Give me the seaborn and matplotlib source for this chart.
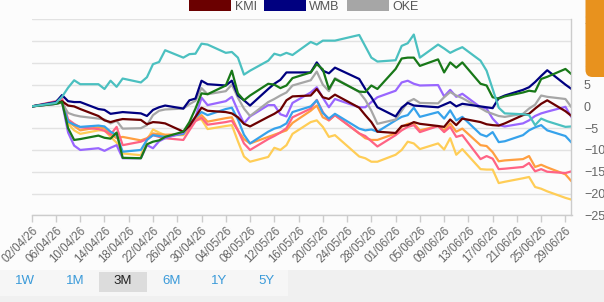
import matplotlib
matplotlib.use("Agg")
import matplotlib.pyplot as plt
import matplotlib.dates as mdates
import matplotlib.transforms as mtransforms
from matplotlib.patches import Patch, Rectangle, FancyBboxPatch
import pandas as pd
import seaborn as sns

# trading days shown on the 3M view
dates = [
    "2026-04-02", "2026-04-06", "2026-04-07", "2026-04-08", "2026-04-09", "2026-04-10",
    "2026-04-13", "2026-04-14", "2026-04-15", "2026-04-16", "2026-04-17",
    "2026-04-20", "2026-04-21", "2026-04-22", "2026-04-23", "2026-04-24",
    "2026-04-27", "2026-04-28", "2026-04-29", "2026-04-30", "2026-05-01",
    "2026-05-04", "2026-05-05", "2026-05-06", "2026-05-07", "2026-05-08",
    "2026-05-11", "2026-05-12", "2026-05-13", "2026-05-14", "2026-05-15",
    "2026-05-18", "2026-05-19", "2026-05-20", "2026-05-21", "2026-05-22",
    "2026-05-26", "2026-05-27", "2026-05-28", "2026-05-29",
    "2026-06-01", "2026-06-02", "2026-06-03", "2026-06-04", "2026-06-05",
    "2026-06-08", "2026-06-09", "2026-06-10", "2026-06-11", "2026-06-12",
    "2026-06-15", "2026-06-16", "2026-06-17", "2026-06-18", "2026-06-19",
    "2026-06-22", "2026-06-23", "2026-06-24", "2026-06-25", "2026-06-26",
    "2026-06-29", "2026-06-30",
]

# % change since start, one list per line
kmi = [0, 0.8, 1.2, 0.2, 0.0, -0.6, -2.2, -3.2, -3.6, -3.2, -2.9, -3.1, -4.1, -3.6, -3.7, -3.9,
       -5.8, -4.5, -2.4, -0.3, -1.0, -1.3, -1.6, -2.5, -4.0, -4.6, -2.4, -1.7, -0.8, 1.4, 2.3,
       2.5, 4.0, 2.1, 1.7, 2.7, -0.3, -2.0, -3.6, -5.8, -6.1, -4.5, -4.3, -3.6, -4.0,
       -4.5, -4.7, -3.0, -4.3, -2.8, -3.6, -4.1, -4.3, -4.4, -3.9, -2.0, -1.7, -0.5, 0.6, 1.4,
       -1.1, -2.2]
wmb = [0, 1.0, 2.6, 1.2, 1.0, 1.0, -0.6, -0.8, -1.7, -1.5, -1.3, -1.6, -2.2, -0.8, -0.2, 0.2,
       -0.5, 1.4, 1.8, 5.9, 5.1, 4.8, 5.9, 2.5, 1.4, 0.2, 4.0, 5.2, 6.1, 7.8, 7.8,
       7.8, 10.1, 8.2, 7.6, 8.9, 6.3, 4.0, 2.1, -0.2, -2.3, -0.3, 0.8, 0.2, 0.1,
       -0.2, 0.4, 1.0, 0.0, 0.6, 0.0, -0.2, -0.4, 1.9, 2.5, 3.8, 4.4, 5.6, 7.0, 8.3,
       5.0, 4.0]
oke = [0, 0.7, 0.8, -1.5, -2.0, -2.3, -2.8, -3.0, -3.9, -3.3, -5.1, -5.0, -4.3, -2.0, -1.0, -0.7,
       -0.5, 0.5, 1.3, 4.2, 2.8, 3.5, 5.0, 2.0, -0.5, -2.2, 1.0, 1.7, 2.5, 3.2, 4.8,
       6.0, 8.0, 5.0, 3.5, 6.5, 3.3, 1.5, -1.0, -4.0, -3.0, -1.0, 1.0, 1.7, 0.8,
       0.7, 2.1, 3.3, 2.5, 1.9, -0.4, -1.2, -1.7, -2.2, -2.4, -1.7, -0.5, 0.4, 2.5, 2.2,
       1.7, -0.2]
teal = [0, 0.8, 2.2, 4.3, 6.0, 5.1, 5.1, 4.0, 5.9, 4.5, 6.4, 5.5, 6.7, 9.7, 10.2, 12.9,
        11.2, 12.0, 12.1, 14.4, 14.2, 12.3, 12.5, 11.2, 7.3, 8.2, 10.5, 12.1, 11.7, 12.3, 11.8,
        14.8, 14.2, 15.1, 15.1, 15.1, 16.4, 13.8, 11.2, 10.3, 10.6, 13.9, 14.5, 16.5, 11.2,
        14.2, 13.3, 12.3, 13.0, 13.6, 10.5, 8.2, 4.0, -0.3, -1.6, -1.8, -2.0, -4.3, -2.8, -3.4,
        -4.7, -4.6]
green = [0, 0.6, 1.0, -5.0, -7.7, -7.5, -6.7, -7.2, -7.4, -6.0, -11.8, -11.9, -8.7, -8.1, -7.8, -7.0,
         -5.8, -3.6, -0.5, 3.0, 2.8, 4.8, 8.2, 3.0, 1.4, 2.5, 5.2, 5.0, 4.2, 4.8, 6.5,
         7.8, 9.7, 8.5, 4.0, 6.3, 3.4, 3.3, 4.8, 4.0, 8.6, 11.0, 11.2, 11.2, 9.3,
         10.8, 7.8, 10.1, 8.9, 10.1, 5.2, 4.8, 2.1, 1.8, 2.3, 3.2, 3.6, 3.4, 6.3, 6.8,
         8.6, 7.4]
purple = [0, 0.6, 1.0, -6.0, -9.0, -10.0, -9.6, -10.2, -9.5, -8.9, -11.9, -11.9, -8.9, -9.6, -8.0, -7.3,
          -6.0, -4.5, -2.5, 2.0, 0.3, 1.2, 2.2, -1.0, -3.9, -2.3, 0.3, 0.3, -1.8, -2.3, 0.8,
          3.2, 4.4, 2.0, -0.2, 1.7, -0.2, -0.2, 1.0, 2.1, 3.6, 5.5, 5.9, 5.2, 4.8,
          4.9, 2.3, 3.8, 2.2, 2.9, -0.2, -0.5, -2.8, -4.3, -4.6, -3.9, -3.2, -2.2, -1.6, -1.2,
          -0.1, -2.5]
blue = [0, 0.6, 1.0, -3.5, -4.2, -4.7, -4.4, -4.6, -5.8, -6.6, -10.4, -10.0, -7.7, -6.6, -6.8, -7.0,
        -6.3, -4.0, -2.5, -1.3, -2.0, -0.6, -0.3, -3.0, -6.5, -8.5, -5.8, -5.1, -4.7, -3.9, -1.3,
        0.0, 1.4, -1.5, -2.8, -1.7, -5.1, -5.5, -5.3, -5.8, -3.2, -2.4, -2.0, -0.3, -2.4,
        -1.3, -2.8, -0.9, -3.2, -2.4, -6.4, -6.9, -5.9, -8.2, -8.0, -6.6, -5.5, -4.8, -4.3, -5.5,
        -6.8, -8.3]
orange = [0, 0.6, 1.0, -3.5, -4.5, -5.5, -4.8, -5.0, -6.3, -7.3, -7.0, -7.8, -7.3, -6.2, -6.4, -6.5,
          -6.4, -4.8, -3.0, -2.0, -3.5, -2.7, -2.5, -5.5, -7.5, -8.5, -7.0, -6.5, -6.0, -5.5, -3.8,
          -1.0, 0.2, -2.5, -3.2, -2.0, -6.2, -7.3, -7.7, -7.7, -6.2, -4.7, -4.0, -3.9, -5.5,
          -4.5, -5.5, -3.9, -5.8, -5.1, -8.9, -9.1, -10.5, -12.6, -12.4, -12.1, -11.4, -13.9, -13.4, -14.0,
          -15.6, -17.2]
pink = [0, 1.2, 1.9, -3.0, -4.0, -4.8, -5.2, -5.6, -6.5, -4.7, -8.9, -8.1, -7.5, -6.6, -7.0, -7.3,
        -7.7, -5.5, -3.4, -2.6, -4.2, -3.6, -3.3, -5.5, -8.5, -10.0, -7.5, -6.8, -6.0, -5.0, -2.5,
        -0.5, 1.5, -1.3, -3.2, -2.0, -6.2, -6.8, -8.0, -9.2, -6.6, -5.5, -4.7, -4.3, -5.9,
        -4.5, -5.9, -4.7, -7.0, -6.6, -12.1, -11.4, -12.0, -14.4, -14.3, -13.9, -13.0, -14.9, -14.4, -15.0,
        -15.3, -14.9]
yellow = [0, 0.6, 1.0, -4.0, -5.5, -6.3, -5.5, -5.5, -7.0, -8.3, -10.8, -11.2, -7.7, -5.3, -6.0, -6.6,
          -6.6, -5.0, -3.0, -3.0, -5.2, -4.5, -4.3, -8.0, -11.5, -12.7, -11.6, -9.5, -10.0, -8.9, -6.3,
          -3.6, -3.2, -4.7, -7.0, -6.6, -11.5, -11.9, -12.7, -12.7, -11.1, -10.0, -8.1, -8.5, -9.8,
          -8.5, -9.9, -7.3, -11.1, -9.8, -14.4, -14.5, -14.5, -17.6, -17.3, -16.5, -16.2, -18.5, -18.9, -19.5,
          -21.0, -21.4]

series = {
    "yellow": yellow, "orange": orange, "pink": pink, "blue": blue, "purple": purple,
    "OKE": oke, "KMI": kmi, "WMB": wmb, "green": green, "teal": teal,
}
colors = {
    "yellow": "#ffcd56", "orange": "#ff9f40", "pink": "#ff6384", "blue": "#36a2eb",
    "purple": "#9966ff", "OKE": "#a6a6a6", "KMI": "#6b0000", "WMB": "#000080",
    "green": "#187818", "teal": "#4bc0c0",
}

df = pd.DataFrame({"date": pd.to_datetime(dates)})
for name, vals in series.items():
    df[name] = vals
long = df.melt(id_vars="date", var_name="ticker", value_name="change")

sns.set_theme(style="white")
plt.rcParams["font.family"] = ["Liberation Sans", "DejaVu Sans"]

bg = "#fcfcfc"
fig = plt.figure(figsize=(6.04, 3.02), dpi=100, facecolor=bg)
ax = fig.add_axes([31.7 / 604, 86.7 / 302, (571.5 - 31.7) / 604, 196 / 302])
ax.set_facecolor(bg)

sns.lineplot(data=long, x="date", y="change", hue="ticker", hue_order=list(series),
             palette=colors, linewidth=1.6, legend=False, ax=ax)

ax.set_xlim(pd.Timestamp("2026-04-02"), pd.Timestamp("2026-06-30"))
ax.set_xticks(pd.date_range("2026-04-02", "2026-06-29", freq="4D"))
ax.xaxis.set_major_formatter(mdates.DateFormatter("%d/%m/%y"))
shift = mtransforms.ScaledTranslation(5 / 100, -6 / 100, fig.dpi_scale_trans)
for lab in ax.get_xticklabels():
    lab.set_rotation(45)
    lab.set_ha("right")
    lab.set_rotation_mode("anchor")
    lab.set_transform(lab.get_transform() + shift)
ax.tick_params(axis="x", bottom=True, length=5, width=1, color="#cccccc",
               labelsize=8.3, labelcolor="#666666", pad=2)

ax.set_ylim(-25, 20)
ax.set_yticks(range(-25, 21, 5))
ax.yaxis.tick_right()
ax.tick_params(axis="y", length=0, pad=9, labelsize=9, labelcolor="#666666")
ax.grid(axis="y", color="#e2e2e2", linewidth=1)
ax.set_xlabel("")
ax.set_ylabel("")
for side in ["top", "left"]:
    ax.spines[side].set_visible(False)
for side in ["right", "bottom"]:
    ax.spines[side].set_color("#cccccc")
    ax.spines[side].set_linewidth(1)

# legend (last row of the series key, at the very top)
handles = [Patch(facecolor=colors[n], edgecolor="none", label=n) for n in ["KMI", "WMB", "OKE"]]
leg = fig.legend(handles=handles, loc="center", bbox_to_anchor=(0.503, 0.978), ncol=3,
                 frameon=False, fontsize=9, handlelength=3.36, handleheight=0.9,
                 handletextpad=0.3, columnspacing=0.56, borderpad=0.1)
for t in leg.get_texts():
    t.set_color("#555555")

# range buttons strip
fig.patches.append(Rectangle((0, 0), 1, 32 / 302, transform=fig.transFigure,
                             facecolor="#f0f0f0", edgecolor="none", zorder=1))
fig.patches.append(Rectangle((0, 6 / 302), 288 / 604, 26 / 302, transform=fig.transFigure,
                             facecolor="#f6f6f6", edgecolor="none", zorder=1))
fig.patches.append(Rectangle((99 / 604, 10 / 302), 48 / 604, 20 / 302, transform=fig.transFigure,
                             facecolor="#dcdcdc", edgecolor="none", zorder=2))
buttons = ["1W", "1M", "3M", "6M", "1Y", "5Y"]
button_x = [25, 75, 123, 172, 219, 266]
for lab, bx in zip(buttons, button_x):
    fig.text(bx / 604, 21 / 302, lab, ha="center", va="center", fontsize=9.5,
             color="#222222" if lab == "3M" else "#3a9ad9", zorder=3)

# orange side tab
fig.patches.append(FancyBboxPatch((5.855, 2.25), 0.4, 1.0, boxstyle="round,pad=0,rounding_size=0.07",
                                  transform=fig.dpi_scale_trans, facecolor="#e8921e",
                                  edgecolor="none", zorder=5))

fig.savefig("out.png", dpi=100, facecolor=bg)
